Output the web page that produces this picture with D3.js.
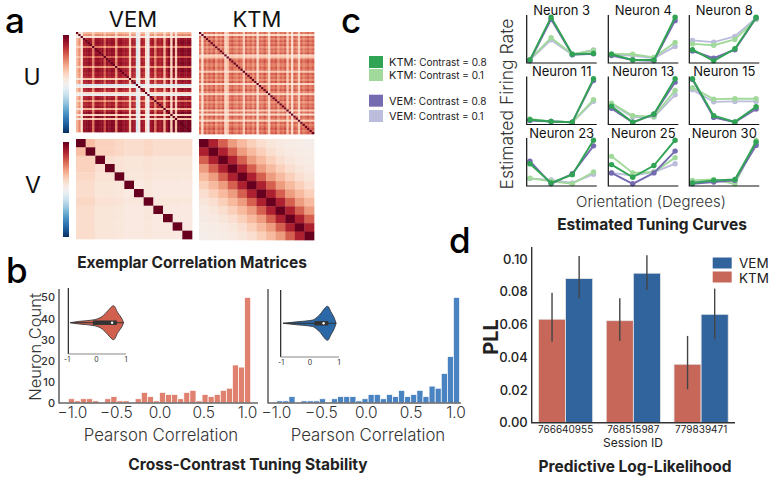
<!DOCTYPE html>
<html>
<head>
<meta charset="utf-8">
<script src="https://cdn.jsdelivr.net/npm/d3@7"></script>
<style>
  body { margin: 0; background: #fff; }
  svg { display: block; font-family: Inter, "Noto Sans", sans-serif; }
</style>
</head>
<body>
<svg id="fig" width="779" height="483"></svg>
<script>
// ---------- panel a: correlation matrices (per-neuron loadings)
const vemULoad = [0.35,0.5,0.15,0.88,0.92,0.94,0.9,0.55,0.93,0.95,
                  0.91,0.94,0.65,0.93,0.9,0.95,0.92,0.5,0.92,0.94,
                  0.87,0.9,0.85,0.3,0.89,0.84,-0.18,0.1,0.88,0.82,
                  0.2,-0.08,0.86,0.9,0.55,0.88,0.84,0.91,0.38,0.88,
                  0.97,0.25,0.98,0.3,0.98,0.97,0.99,0.96,0.98,0.98]
const ktmULoad = [0.72,0.25,0.78,0.66,0.8,0.7,0.82,0.6,0.76,0.68,
                  0.8,0.3,0.4,0.74,0.82,0.7,0.66,0.78,0.72,0.35,
                  0.8,0.68,0.76,0.62,0.8,0.28,0.74,0.7,0.82,0.66,
                  0.3,0.78,0.72,0.8,0.6,0.76,0.7,0.82,0.38,0.74,
                  0.25,0.78,0.7,0.32,0.8,0.66,0.74,0.82,0.7,0.78]
const vemVLoad = [0.55,0.55,0.4,0.4,0.35,0.3,0.3,0.35,0.3,0.3,0.3,0.3]
const ktmVKernel = [1,0.8,0.6,0.42,0.32,0.23,0.16,0.11,0.08,0.06,0.05,0.04]

// ---------- panel b: cross-contrast correlation histograms (30 bins)
const ktmHist = [2,1,2,2,1,0,2,3,1,1,0,2,5,3,1,5,4,4,2,5,6,1,4,3,4,6,7,18,17,50]
const vemHist = [1,1,3,0,1,1,1,2,0,2,3,3,3,1,2,4,4,2,4,3,6,3,4,6,3,8,7,14,22,50]
const ktmBinRange = [-1.042, 1.042]
const vemBinRange = [-0.992, 1.045]
const histTicks = [-1, -0.5, 0, 0.5, 1]
const countTicks = [0, 10, 20, 30, 40, 50]
// inset violins: relative density at positions, box = [low, q1, median, q3, high]
const ktmViolinX = [-0.89,-0.58,-0.12,0.21,0.38,0.58,0.72,0.87,0.92]
const ktmViolinW = [0,0.08,0.16,0.39,0.69,1,0.59,0.2,0]
const vemViolinX = [-0.93,-0.37,0.09,0.32,0.61,0.72,0.87,0.9]
const vemViolinW = [0,0.1,0.19,0.48,1,0.68,0.16,0]
const ktmBox = [-0.89,-0.12,0.53,0.69,0.92]
const vemBox = [-0.93,0.15,0.47,0.63,0.9]

// ---------- panel c: tuning curves
const orientations = [0, 45, 90, 135]
const neuronIds = [3, 4, 8, 11, 13, 15, 23, 25, 30]
const ktmHigh = [[0.02,1.0,0.15,0.17],[0.15,0.02,0.02,1.0],[0.27,0.02,0.29,1.0],
                 [0.06,0.02,0.0,1.0],[0.37,0.0,0.19,1.0],[1.0,0.17,0.03,0.37],
                 [0.46,0.02,0.21,1.0],[0.44,0.15,0.42,1.0],[0.02,0.08,0.1,0.96]]
const vemHigh = [[0.0,0.95,0.14,0.16],[0.12,0.02,0.0,0.92],[0.24,0.08,0.27,0.98],
                 [0.04,0.02,0.0,0.96],[0.32,0.0,0.18,0.92],[0.98,0.13,0.02,0.32],
                 [0.52,0.0,0.23,0.87],[0.25,0.0,0.25,0.75],[0.0,0.04,0.08,0.88]]
const ktmLow = [[0.03,0.53,0.15,0.24],[0.16,0.15,0.08,0.42],[0.40,0.37,0.50,0.95],
                [0.08,0.02,0.0,0.52],[0.44,0.15,0.13,0.73],[0.8,0.54,0.55,0.55],
                [0.13,0.06,0.0,0.27],[0.63,0.25,0.27,0.6],[0.08,0.1,0.0,1.0]]
const vemLow = [[0.02,0.48,0.14,0.25],[0.14,0.12,0.06,0.33],[0.48,0.44,0.57,0.98],
                [0.06,0.02,0.0,0.48],[0.42,0.12,0.12,0.63],[0.75,0.48,0.49,0.49],
                [0.12,0.09,0.02,0.22],[0.25,0.19,0.27,0.46],[0.04,0.08,0.02,0.92]]
const curveLabels = ["VEM: Contrast = 0.1", "KTM: Contrast = 0.1", "VEM: Contrast = 0.8", "KTM: Contrast = 0.8"]

// ---------- panel d: predictive log-likelihood
const sessions = ["766640955", "768515987", "779839471"]
const ktmPLL = [0.0632, 0.0623, 0.0357]
const vemPLL = [0.088, 0.0913, 0.0662]
const ktmErrLo = [0.0495, 0.050, 0.0204]
const ktmErrHi = [0.0794, 0.076, 0.053]
const vemErrLo = [0.076, 0.081, 0.051]
const vemErrHi = [0.1018, 0.1022, 0.0819]
const pllTicks = [0, 0.02, 0.04, 0.06, 0.08, 0.10]

const svg = d3.select("#fig")
svg.append("rect").attr("width", 779).attr("height", 483).attr("fill", "#fff")

function label(x, y, txt, size, weight = 400, anchor = "middle", color = "#222") {
    return svg.append("text").attr("x", x).attr("y", y).attr("text-anchor", anchor)
        .style("font-size", size + "px").style("font-weight", weight).attr("fill", color).text(txt)
}

// ================= panel a
const cmap = v => d3.interpolateRdBu((1 - v) / 2)

function heatmap(x, y, w, h, n, valueAt) {
    let xs = d3.scaleBand().domain(d3.range(n)).range([x, x + w])
    let ys = d3.scaleBand().domain(d3.range(n)).range([y, y + h])
    let cells = []
    for (let i = 0; i < n; i++)
        for (let j = 0; j < n; j++) cells.push({i: i, j: j, v: i === j ? 1 : valueAt(i, j)})
    svg.append("g").selectAll("rect").data(cells).join("rect")
        .attr("x", d => xs(d.j)).attr("y", d => ys(d.i))
        .attr("width", xs.bandwidth() + 0.35).attr("height", ys.bandwidth() + 0.35)
        .attr("fill", d => cmap(Math.max(-1, Math.min(1, d.v))))
}

heatmap(76, 32, 115, 100, vemULoad.length, (i, j) => vemULoad[i] * vemULoad[j])
heatmap(199, 32, 115, 102, ktmULoad.length, (i, j) => ktmULoad[i] * ktmULoad[j])
heatmap(76, 139, 116, 100, vemVLoad.length, (i, j) => vemVLoad[i] * vemVLoad[j])
heatmap(199, 139, 115, 101, ktmVKernel.length, (i, j) => ktmVKernel[Math.abs(i - j)])

let grad = svg.append("defs").append("linearGradient").attr("id", "rdbu")
    .attr("x1", 0).attr("y1", 1).attr("x2", 0).attr("y2", 0)
d3.range(0, 1.001, 0.05).forEach(t => {
    grad.append("stop").attr("offset", t).attr("stop-color", d3.interpolateRdBu(1 - t))
})
svg.append("rect").attr("x", 63).attr("y", 35).attr("width", 6).attr("height", 98).attr("fill", "url(#rdbu)")
svg.append("rect").attr("x", 63).attr("y", 142).attr("width", 6).attr("height", 95).attr("fill", "url(#rdbu)")

label(133, 27, "VEM", 22, 400, "middle", "#111")
label(257, 27, "KTM", 22, 400, "middle", "#111")
label(32, 85, "U", 23, 400, "middle", "#111")
label(33, 193, "V", 23, 400, "middle", "#111")
label(192, 268, "Exemplar Correlation Matrices", 15.5, 700)

// ================= panel b
let yCount = d3.scaleLinear().domain([0, 54]).range([403, 289])

function histPanel(counts, binRange, xr, spineX, spineEnd, color, showY) {
    let x = d3.scaleLinear().domain([-1, 1]).range(xr)
    let step = (binRange[1] - binRange[0]) / counts.length
    let g = svg.append("g")
    g.selectAll("rect").data(counts).join("rect")
        .attr("x", (d, i) => x(binRange[0] + i * step))
        .attr("width", (d, i) => x(binRange[0] + (i + 1) * step) - x(binRange[0] + i * step))
        .attr("y", d => yCount(d)).attr("height", d => 403 - yCount(d))
        .attr("fill", color).attr("stroke", "#fff").attr("stroke-width", 0.7)
    g.append("line").attr("x1", spineX).attr("x2", spineX).attr("y1", 289).attr("y2", 403.5)
        .attr("stroke", "#666").attr("stroke-width", 1.6)
    g.append("line").attr("x1", spineX).attr("x2", spineEnd).attr("y1", 403).attr("y2", 403)
        .attr("stroke", "#666").attr("stroke-width", 1.6)
    let xa = g.append("g").attr("transform", "translate(0,403)")
        .call(d3.axisBottom(x).tickValues(histTicks).tickFormat(d3.format(".1f")).tickSize(0).tickPadding(4))
    xa.select(".domain").remove()
    xa.selectAll("text").style("font-size", "15.5px").style("font-weight", 300).attr("fill", "#333")
        .style("font-family", "Inter, sans-serif")
    if (showY) {
        let ya = g.append("g").attr("transform", `translate(${spineX},0)`)
            .call(d3.axisLeft(yCount).tickValues(countTicks).tickSize(0).tickPadding(4))
        ya.select(".domain").remove()
        ya.selectAll("text").style("font-size", "11px").style("font-weight", 500).attr("fill", "#333")
            .style("font-family", "Inter, sans-serif")
    }
}

histPanel(ktmHist, ktmBinRange, [72, 247], 59, 258, "#e0806f", true)
histPanel(vemHist, vemBinRange, [276, 455.5], 268, 461, "#4a83c1", false)

function violinInset(xr, spineX, top, bottom, cy, vx, vw, box, color) {
    let x = d3.scaleLinear().domain([-1, 1]).range(xr)
    let w = d3.scaleLinear().domain([0, 1]).range([0, 17])
    let g = svg.append("g")
    let pts = vx.map((d, i) => [d, vw[i]])
    g.append("path").datum(pts)
        .attr("d", d3.area().x(d => x(d[0])).y0(d => cy + w(d[1])).y1(d => cy - w(d[1])).curve(d3.curveMonotoneX))
        .attr("fill", color).attr("stroke", "#3a3a3a").attr("stroke-width", 0.9)
    g.append("line").attr("x1", x(box[0])).attr("x2", x(box[4])).attr("y1", cy).attr("y2", cy)
        .attr("stroke", "#333").attr("stroke-width", 1)
    g.append("line").attr("x1", x(box[1])).attr("x2", x(box[3])).attr("y1", cy).attr("y2", cy)
        .attr("stroke", "#333").attr("stroke-width", 4.5)
    g.append("circle").attr("cx", x(box[2])).attr("cy", cy).attr("r", 1.2).attr("fill", "#fff")
    g.append("line").attr("x1", spineX).attr("x2", spineX).attr("y1", top).attr("y2", bottom)
        .attr("stroke", "#111").attr("stroke-width", 1.1)
    g.append("line").attr("x1", spineX).attr("x2", xr[1]).attr("y1", bottom).attr("y2", bottom)
        .attr("stroke", "#888").attr("stroke-width", 1.1)
    g.selectAll(".vt").data([-1, 0, 1]).join("text")
        .attr("x", d => x(d)).attr("y", bottom + 8).attr("text-anchor", "middle")
        .style("font-size", "7px").attr("fill", "#333").text(d => d)
}

violinInset([67, 126], 68.3, 288, 354, 322.7, ktmViolinX, ktmViolinW, ktmBox, "#d2604e")
violinInset([281, 339], 280.7, 290, 357, 323.3, vemViolinX, vemViolinW, vemBox, "#2b68a8")

svg.append("text").attr("transform", "translate(41,347) rotate(-90)").attr("text-anchor", "middle")
    .style("font-size", "16.5px").style("font-weight", 300).attr("fill", "#333").text("Neuron Count")
label(161, 441, "Pearson Correlation", 16.8, 300, "middle", "#333")
label(368, 441, "Pearson Correlation", 16.8, 300, "middle", "#333")
label(248, 470, "Cross-Contrast Tuning Stability", 15.5, 700)

// ================= panel c
const colLeft = [526.7, 608.3, 689.3]
const rowTop = [15, 76.5, 138]
const cellW = 70, cellH = 48
const curveColors = ["#bcbddc", "#a1d99b", "#756bb1", "#31a354"]
const curveSets = [vemLow, ktmLow, vemHigh, ktmHigh]

neuronIds.forEach(function (id, k) {
    let left = colLeft[k % 3], top = rowTop[Math.floor(k / 3)]
    let all = curveSets.flatMap(s => s[k])
    let ext = d3.extent(all), pad = (ext[1] - ext[0]) * 0.05
    let x = d3.scalePoint().domain(orientations).range([left + 3.2, left + cellW - 3.2])
    let y = d3.scaleLinear().domain([ext[0] - pad, ext[1] + pad]).range([top + cellH, top])
    let g = svg.append("g")
    curveSets.forEach(function (s, si) {
        let pts = s[k].map((v, i) => [orientations[i], v])
        g.append("path").datum(pts).attr("fill", "none").attr("stroke", curveColors[si]).attr("stroke-width", 1.9)
            .attr("d", d3.line().x(d => x(d[0])).y(d => y(d[1])))
        g.selectAll(".p" + si).data(pts).join("circle")
            .attr("cx", d => x(d[0])).attr("cy", d => y(d[1])).attr("r", 2.7).attr("fill", curveColors[si])
    })
    g.append("path").attr("d", `M${left},${top}V${top + cellH}H${left + cellW}`)
        .attr("fill", "none").attr("stroke", "#111").attr("stroke-width", 1.2)
    label(left + cellW / 2, top - 0.5, "Neuron " + id, 13, 400, "middle", "#111")
})

svg.append("text").attr("transform", "translate(513,104) rotate(-90)").attr("text-anchor", "middle")
    .style("font-size", "17.5px").style("font-weight", 300).attr("fill", "#333").text("Estimated  Firing Rate")
label(651, 207, "Orientation (Degrees)", 15, 300, "middle", "#333")
label(652, 230, "Estimated Tuning Curves", 15.5, 700)

// legend c
const legendOrder = [3, 1, 2, 0]
const legendY = [62, 75, 100.7, 116]
legendOrder.forEach(function (si, i) {
    svg.append("rect").attr("x", 369).attr("y", legendY[i] - 6).attr("width", 14).attr("height", 12)
        .attr("fill", curveColors[si])
    let parts = curveLabels[si].split(":")
    let t = svg.append("text").attr("x", 389).attr("y", legendY[i] + 4).attr("fill", "#222")
    t.append("tspan").style("font-size", "11px").text(parts[0])
    t.append("tspan").style("font-size", "10px").text(":" + parts[1])
})

// ================= panel d
let xs = d3.scaleBand().domain(sessions).range([531.7, 735])
let yp = d3.scaleLinear().domain([0, 0.1073]).range([422.7, 247])
const ktmColor = "#c6675a", vemColor = "#31649c"
let gd = svg.append("g")
let bw = xs.bandwidth() * 0.8 / 2
sessions.forEach(function (s, i) {
    let c = xs(s) + xs.bandwidth() / 2
    let bars = [[c - bw, ktmPLL[i], ktmErrLo[i], ktmErrHi[i], ktmColor],
                [c, vemPLL[i], vemErrLo[i], vemErrHi[i], vemColor]]
    bars.forEach(function (b) {
        gd.append("rect").attr("x", b[0]).attr("width", bw).attr("y", yp(b[1])).attr("height", yp(0) - yp(b[1]))
            .attr("fill", b[4]).attr("stroke", "#e8e8e8").attr("stroke-width", 0.8)
        gd.append("line").attr("x1", b[0] + bw / 2).attr("x2", b[0] + bw / 2)
            .attr("y1", yp(b[2])).attr("y2", yp(b[3])).attr("stroke", "#444").attr("stroke-width", 1.4)
    })
})
gd.append("path").attr("d", "M531.7,247V422.7H735").attr("fill", "none").attr("stroke", "#333").attr("stroke-width", 1.4)
let ya = gd.append("g").attr("transform", "translate(531.7,0)")
    .call(d3.axisLeft(yp).tickValues(pllTicks).tickFormat(d3.format(".2f")).tickSize(0).tickPadding(4))
ya.select(".domain").remove()
ya.selectAll("text").style("font-size", "13px").style("font-weight", 500).attr("fill", "#222")
    .style("font-family", "Inter, sans-serif")
let xa = gd.append("g").attr("transform", "translate(0,422.7)")
    .call(d3.axisBottom(xs).tickSize(0).tickPadding(3))
xa.select(".domain").remove()
xa.selectAll("text").style("font-size", "10px").style("font-weight", 400).attr("fill", "#222")
    .style("font-family", "Inter, sans-serif")

svg.append("text").attr("transform", "translate(498,337) rotate(-90)").attr("text-anchor", "middle")
    .style("font-size", "20px").style("font-weight", 700).attr("fill", "#222").text("PLL")
label(633, 447, "Session ID", 12, 400, "middle", "#222")
label(635, 472, "Predictive Log-Likelihood", 15.5, 700)

svg.append("rect").attr("x", 712.7).attr("y", 257.5).attr("width", 19).attr("height", 11).attr("fill", vemColor)
svg.append("rect").attr("x", 712.7).attr("y", 271.5).attr("width", 19).attr("height", 11).attr("fill", ktmColor)
label(739, 267.5, "VEM", 13.5, 400, "start", "#222")
label(739, 282.5, "KTM", 13.5, 400, "start", "#222")

// ================= panel letters
label(5, 33, "a", 35, 500, "start", "#000")
label(6, 283, "b", 35, 500, "start", "#000")
label(341, 33, "c", 35, 500, "start", "#000")
label(449, 253, "d", 35, 500, "start", "#000")
</script>
</body>
</html>
